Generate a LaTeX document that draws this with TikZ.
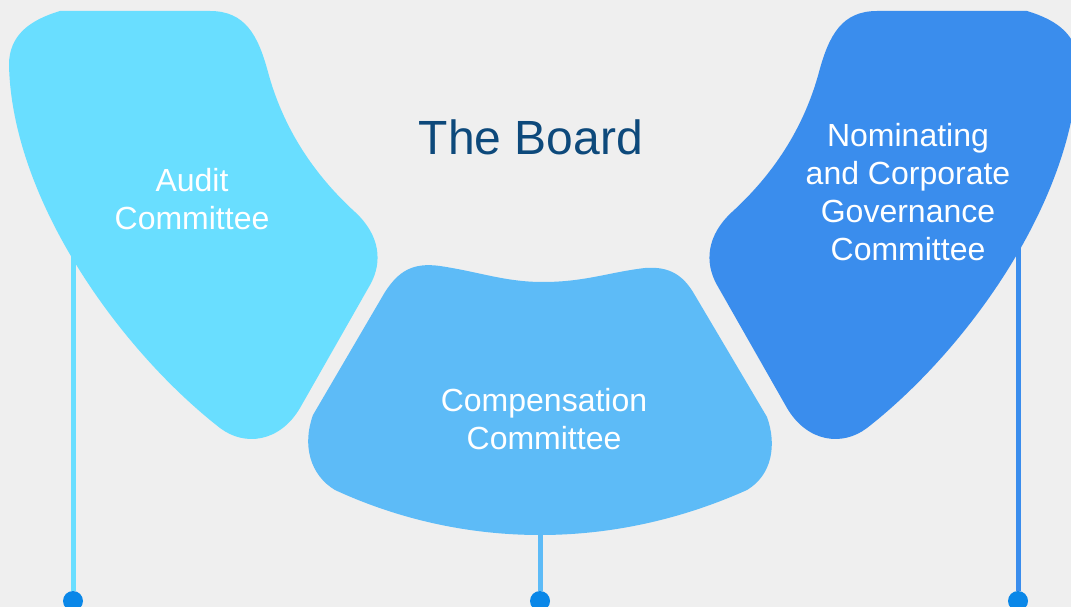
\documentclass[tikz,border=0pt]{standalone}
\usepackage{fontspec}
\setmainfont{Liberation Sans}
\definecolor{paper}{HTML}{EFEFEF}
\definecolor{auditblue}{HTML}{69DEFF}
\definecolor{compblue}{HTML}{5DBBF7}
\definecolor{nomblue}{HTML}{3A8DED}
\definecolor{knobblue}{HTML}{0A87E8}
\definecolor{navy}{HTML}{0D497B}
\begin{document}
\begin{tikzpicture}[x=1pt,y=-1pt,line join=round,line cap=round,
    committee/.style={text=white,align=center,inner sep=0pt,font=\fontsize{32}{38}\selectfont},
    stem/.style={line width=5pt,line cap=butt},
    knob/.style={circle,fill=knobblue,inner sep=0pt,minimum size=20pt},
    wing/.style={insert path={(60,11) -- (210,11) .. controls (245,11) and (258,35) .. (268,72)
        .. controls (285,135) and (320,180) .. (355,212) .. controls (380,235) and (383,262) .. (370,285)
        -- (300,408) .. controls (280,442) and (245,447) .. (220,428)
        .. controls (120,350) and (12,200) .. (9,65) .. controls (9,35) and (30,20) .. (60,11) -- cycle}}]
    \useasboundingbox (0,0) rectangle (1071,607);
    \clip (0,0) rectangle (1071,607);
    \fill[paper] (0,0) rectangle (1071,607);
    % dots and stems
    \node[knob] (k1) at (73,601) {};
    \node[knob] (k2) at (540,601) {};
    \node[knob] (k3) at (1018,601) {};
    \coordinate (s1) at (73,240);
    \coordinate (s2) at (540,500);
    \coordinate (s3) at (1018,240);
    \draw[stem,auditblue] (s1) -- (k1);
    \draw[stem,compblue] (s2) -- (k2);
    \draw[stem,nomblue] (s3) -- (k3);
    % blobs
    \fill[auditblue,wing];
    \begin{scope}[xshift=1087pt,xscale=-1]
        \fill[nomblue,wing];
    \end{scope}
    \fill[compblue] (385,292) .. controls (398,272) and (412,262) .. (440,266)
        .. controls (480,272) and (505,282) .. (543,282) .. controls (585,282) and (610,272) .. (645,268)
        .. controls (670,266) and (683,276) .. (693,292) -- (767,417)
        .. controls (777,445) and (772,475) .. (747,490) .. controls (680,520) and (610,535) .. (540,535)
        .. controls (470,535) and (400,520) .. (335,490) .. controls (310,475) and (302,445) .. (313,415) -- cycle;
    % texts
    \node[anchor=base,inner sep=0pt,text=navy,font=\fontsize{48}{58}\selectfont] (board) at (531,155) {The Board};
    \node[committee] (audit) at (192,199.5) {Audit\\Committee};
    \node[committee] (comp) at (544,419.5) {Compensation\\Committee};
    \node[committee] (nom) at (908,192.5) {Nominating\\and Corporate\\Governance\\Committee};
\end{tikzpicture}
\end{document}
